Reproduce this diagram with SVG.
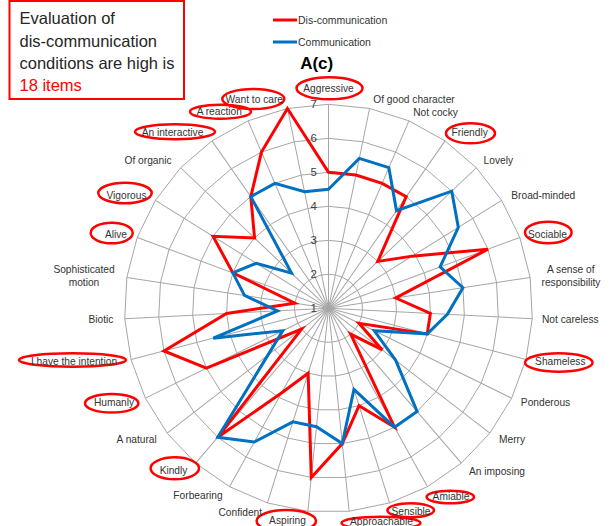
<svg xmlns="http://www.w3.org/2000/svg" xmlns:xlink="http://www.w3.org/1999/xlink" width="616" height="526" viewBox="0 0 616 526">
<defs>
<style>
.lbl{font-family:"Liberation Sans",Arial,sans-serif;font-size:10.2px;fill:#333333;text-anchor:middle}
.num{font-family:"Liberation Sans",Arial,sans-serif;font-size:11.5px;fill:#404040;text-anchor:end}
.ring{fill:none;stroke:#a6a6a6;stroke-width:1;vector-effect:non-scaling-stroke}
.spoke{stroke:#a6a6a6;stroke-width:1}
.oval{fill:none;stroke:#ff0000;stroke-width:2.5}
.sred{fill:none;stroke:#ff0000;stroke-width:3;vector-effect:non-scaling-stroke;stroke-linejoin:miter}
.sblue{fill:none;stroke:#0070c0;stroke-width:3;vector-effect:non-scaling-stroke;stroke-linejoin:miter}
.box{font-family:"Liberation Sans",Arial,sans-serif;font-size:16.5px;fill:#262626}
.leg{font-family:"Liberation Sans",Arial,sans-serif;font-size:10.5px;fill:#333333}
</style>
<polygon id="ring" class="ring" points="0,-100 20.13,-97.95 39.44,-91.90 57.13,-82.08 72.48,-68.90 84.86,-52.90 93.78,-34.73 98.85,-15.14 99.87,5.07 96.81,25.07 89.78,44.04 79.08,61.21 65.14,75.88 48.53,87.43 29.94,95.41 10.12,99.49 -10.12,99.49 -29.94,95.41 -48.53,87.43 -65.14,75.88 -79.08,61.21 -89.78,44.04 -96.81,25.07 -99.87,5.07 -98.85,-15.14 -93.78,-34.73 -84.86,-52.90 -72.48,-68.90 -57.13,-82.08 -39.44,-91.90 -20.13,-97.95"/>
</defs>

<g id="title-box">
<rect x="9.5" y="1" width="174.5" height="98" fill="#ffffff" stroke="#ff0000" stroke-width="2"/>
<text class="box" x="19.5" y="24">Evaluation of</text>
<text class="box" x="19.5" y="46.5">dis-communication</text>
<text class="box" x="19.5" y="68.5">conditions are high is</text>
<text class="box" x="19.5" y="90.5" style="fill:#ff0000">18 items</text>
</g>

<g id="legend">
<line x1="273" y1="20" x2="297" y2="20" stroke="#ff0000" stroke-width="3"/>
<text class="leg" x="298" y="23.5">Dis-communication</text>
<line x1="273" y1="42" x2="297" y2="42" stroke="#0070c0" stroke-width="3"/>
<text class="leg" x="298" y="45.5">Communication</text>
</g>

<g id="chart-title">
<text x="316.7" y="69" style="font-family:'Liberation Sans',Arial,sans-serif;font-size:17px;font-weight:bold;fill:#000000;text-anchor:middle">A(c)</text>
</g>

<g id="grid" transform="translate(328.5,308.3)">
<use xlink:href="#ring" transform="scale(0.34)"/>
<use xlink:href="#ring" transform="scale(0.68)"/>
<use xlink:href="#ring" transform="scale(1.02)"/>
<use xlink:href="#ring" transform="scale(1.36)"/>
<use xlink:href="#ring" transform="scale(1.70)"/>
<use xlink:href="#ring" transform="scale(2.04)"/>
<g class="spoke">
<line x2="0" y2="-204" transform="rotate(0)"/>
<line x2="0" y2="-204" transform="rotate(11.6129)"/>
<line x2="0" y2="-204" transform="rotate(23.2258)"/>
<line x2="0" y2="-204" transform="rotate(34.8387)"/>
<line x2="0" y2="-204" transform="rotate(46.4516)"/>
<line x2="0" y2="-204" transform="rotate(58.0645)"/>
<line x2="0" y2="-204" transform="rotate(69.6774)"/>
<line x2="0" y2="-204" transform="rotate(81.2903)"/>
<line x2="0" y2="-204" transform="rotate(92.9032)"/>
<line x2="0" y2="-204" transform="rotate(104.5161)"/>
<line x2="0" y2="-204" transform="rotate(116.1290)"/>
<line x2="0" y2="-204" transform="rotate(127.7419)"/>
<line x2="0" y2="-204" transform="rotate(139.3548)"/>
<line x2="0" y2="-204" transform="rotate(150.9677)"/>
<line x2="0" y2="-204" transform="rotate(162.5806)"/>
<line x2="0" y2="-204" transform="rotate(174.1935)"/>
<line x2="0" y2="-204" transform="rotate(185.8065)"/>
<line x2="0" y2="-204" transform="rotate(197.4194)"/>
<line x2="0" y2="-204" transform="rotate(209.0323)"/>
<line x2="0" y2="-204" transform="rotate(220.6452)"/>
<line x2="0" y2="-204" transform="rotate(232.2581)"/>
<line x2="0" y2="-204" transform="rotate(243.8710)"/>
<line x2="0" y2="-204" transform="rotate(255.4839)"/>
<line x2="0" y2="-204" transform="rotate(267.0968)"/>
<line x2="0" y2="-204" transform="rotate(278.7097)"/>
<line x2="0" y2="-204" transform="rotate(290.3226)"/>
<line x2="0" y2="-204" transform="rotate(301.9355)"/>
<line x2="0" y2="-204" transform="rotate(313.5484)"/>
<line x2="0" y2="-204" transform="rotate(325.1613)"/>
<line x2="0" y2="-204" transform="rotate(336.7742)"/>
<line x2="0" y2="-204" transform="rotate(348.3871)"/>
</g>
</g>

<g id="axis-values">
<text class="num" x="317" y="312.3">1</text>
<text class="num" x="317" y="278.3">2</text>
<text class="num" x="317" y="244.3">3</text>
<text class="num" x="317" y="210.3">4</text>
<text class="num" x="317" y="176.3">5</text>
<text class="num" x="317" y="142.3">6</text>
<text class="num" x="317" y="108.3">7</text>
</g>

<g id="connectors" transform="translate(328.5,308.3) scale(0.34)">
<polygon id="series-dis-communication" class="sred" points="0,-400 80.52,-391.8 157.76,-367.6 228.52,-328.32 144.96,-137.8 246.09,-153.41 468.9,-173.65 197.7,-30.28 299.61,15.21 290.43,75.21 89.78,44.04 158.16,122.42 65.14,75.88 194.12,349.72 89.82,286.23 40.48,397.96 -50.6,497.45 -59.88,190.82 -138.31,249.18 -325.7,379.4 -79.08,61.21 -359.12,176.16 -484.05,125.35 -299.61,15.21 -98.85,-15.14 -281.34,-104.19 -339.44,-211.6 -217.44,-206.7 -228.52,-328.32 -197.2,-459.5 -120.78,-587.7"/>
<polygon id="series-communication" class="sblue" points="0,-350 90.59,-440.78 177.48,-413.55 199.96,-287.28 362.4,-344.5 381.87,-238.05 328.23,-121.56 395.4,-60.56 349.55,17.75 290.43,75.21 134.67,66.06 197.7,153.03 260.56,303.52 194.12,349.72 74.85,238.53 40.48,397.96 -35.42,348.22 -104.79,333.94 -218.39,393.44 -325.7,379.4 -178.76,138.38 -134.67,66.06 -338.84,87.75 -149.81,7.61 -247.13,-37.85 -281.34,-104.19 -212.15,-132.25 -108.72,-103.35 -228.52,-328.32 -157.76,-367.6 -70.46,-342.83"/>
</g>

<g id="label-aggressive"><ellipse class="oval" cx="329.5" cy="88.3" rx="33" ry="11"/><text class="lbl" x="328.5" y="92">Aggressive</text></g>
<g id="label-of-good-character"><text class="lbl" x="414" y="102.5">Of good character</text></g>
<g id="label-not-cocky"><text class="lbl" x="435.5" y="115.8">Not cocky</text></g>
<g id="label-friendly"><ellipse class="oval" cx="470.5" cy="133.3" rx="24.5" ry="10"/><text class="lbl" x="469.7" y="136.2">Friendly</text></g>
<g id="label-lovely"><text class="lbl" x="498.3" y="163.5">Lovely</text></g>
<g id="label-broad-minded"><text class="lbl" x="543.3" y="198.5">Broad-minded</text></g>
<g id="label-sociable"><ellipse class="oval" cx="548.3" cy="232.5" rx="23.3" ry="10.8"/><text class="lbl" x="547.5" y="237.5">Sociable</text></g>
<g id="label-a-sense-of-responsibility"><text class="lbl" x="570.8" y="272.5">A sense of</text><text class="lbl" x="571" y="285.8">responsibility</text></g>
<g id="label-not-careless"><text class="lbl" x="570.3" y="322.5">Not careless</text></g>
<g id="label-shameless"><ellipse class="oval" cx="558.8" cy="362.5" rx="33.8" ry="9.2"/><text class="lbl" x="560.3" y="365.2">Shameless</text></g>
<g id="label-ponderous"><text class="lbl" x="545.5" y="405.8">Ponderous</text></g>
<g id="label-merry"><text class="lbl" x="512" y="442.5">Merry</text></g>
<g id="label-an-imposing"><text class="lbl" x="497" y="474.5">An imposing</text></g>
<g id="label-amiable"><ellipse class="oval" cx="450.3" cy="497" rx="23.7" ry="6.3"/><text class="lbl" x="451" y="499.5">Amiable</text></g>
<g id="label-sensible"><ellipse class="oval" cx="410.7" cy="510.3" rx="23.3" ry="7"/><text class="lbl" x="411" y="515.2">Sensible</text></g>
<g id="label-approachable"><ellipse class="oval" cx="381" cy="523" rx="39.5" ry="6.3"/><text class="lbl" x="381.5" y="525.2">Approachable</text></g>
<g id="label-aspiring"><ellipse class="oval" cx="286.3" cy="521" rx="29.7" ry="11"/><text class="lbl" x="287.5" y="524.2">Aspiring</text></g>
<g id="label-confident"><text class="lbl" x="240.3" y="515.8">Confident</text></g>
<g id="label-forbearing"><text class="lbl" x="198" y="498.5">Forbearing</text></g>
<g id="label-kindly"><ellipse class="oval" cx="174.8" cy="468.3" rx="24.2" ry="11"/><text class="lbl" x="173.5" y="474.2">Kindly</text></g>
<g id="label-a-natural"><text class="lbl" x="136.7" y="442.5">A natural</text></g>
<g id="label-humanly"><ellipse class="oval" cx="111.7" cy="403.3" rx="26.7" ry="9.3"/><text class="lbl" x="114" y="406.2">Humanly</text></g>
<g id="label-i-have-the-intention"><ellipse class="oval" cx="72.5" cy="360" rx="53.5" ry="6.7"/><text class="lbl" x="74" y="364.5">I have the intention</text></g>
<g id="label-biotic"><text class="lbl" x="101" y="322.5">Biotic</text></g>
<g id="label-sophisticated-motion"><text class="lbl" x="84" y="272.5">Sophisticated</text><text class="lbl" x="84" y="286.2">motion</text></g>
<g id="label-alive"><ellipse class="oval" cx="111.7" cy="233" rx="21" ry="10.3"/><text class="lbl" x="116" y="237.5">Alive</text></g>
<g id="label-vigorous"><ellipse class="oval" cx="125" cy="193" rx="26.7" ry="10.3"/><text class="lbl" x="126.5" y="198.5">Vigorous</text></g>
<g id="label-of-organic"><text class="lbl" x="148" y="163.8">Of organic</text></g>
<g id="label-an-interactive"><ellipse class="oval" cx="175" cy="131.8" rx="40" ry="7.5"/><text class="lbl" x="172.5" y="135.5">An interactive</text></g>
<g id="label-a-reaction"><ellipse class="oval" cx="220.5" cy="111.7" rx="30.5" ry="7"/><text class="lbl" x="219.3" y="115.2">A reaction</text></g>
<g id="label-want-to-care"><ellipse class="oval" cx="253.3" cy="99" rx="31" ry="10"/><text class="lbl" x="254.3" y="102.5">Want to care</text></g>
</svg>
